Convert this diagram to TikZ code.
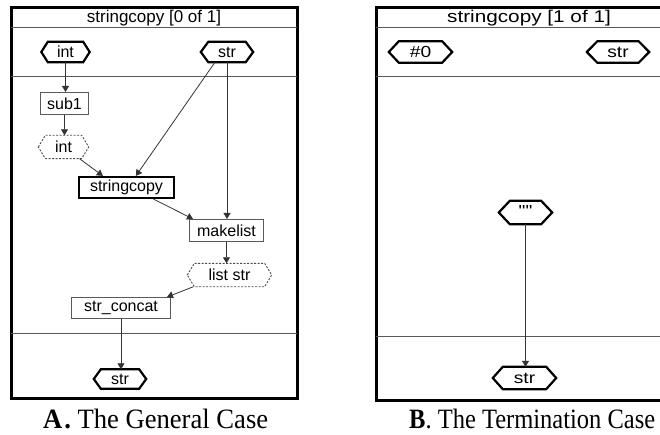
\documentclass[tikz,border=0pt]{standalone}
\usepackage{fontspec}
\setmainfont{Liberation Serif}
\newfontfamily\dgfont{Liberation Sans}
\usetikzlibrary{arrows.meta,calc}

\tikzset{
  lbl/.style={font=\dgfont\fontsize{16}{18}\selectfont, inner sep=0pt},
  ttl/.style={font=\dgfont\fontsize{17}{19}\selectfont, inner sep=0pt},
  opbox/.style={lbl, draw=black!65, line width=1pt},
  mainop/.style={lbl, draw=black, line width=2.2pt},
  hexcore/.style={lbl},
  frameline/.style={line width=3pt, black},
  divline/.style={line width=1pt, black!65},
  wire/.style={line width=0.8pt, black!80, -{Triangle[length=6pt,width=7pt]}},
  hexsolid/.style={line width=2.2pt, black, line join=miter},
  hexdash/.style={line width=0.9pt, black!70, dash pattern=on 2pt off 1.5pt},
  caption/.style={font=\fontsize{28}{32}\selectfont, inner sep=0pt, anchor=base west},
}
% hexagonal outline around a named node: #1 node, #2 style, #3 corner inset
\newcommand\hexoutline[3]{%
  \draw[#2] (#1.west) -- ([xshift=#3]#1.north west) -- ([xshift=-#3]#1.north east)
    -- (#1.east) -- ([xshift=-#3]#1.south east) -- ([xshift=#3]#1.south west) -- cycle;}

\begin{document}
\begin{tikzpicture}[x=1pt, y=-1pt]
\useasboundingbox (0,0) rectangle (660,435);

% ---------------- general case ----------------
\draw[frameline] (11,8) rectangle (297,398);
\draw[divline] (11,28) -- (297,28);
\draw[divline] (11,77) -- (297,77);
\draw[divline] (11,333) -- (297,333);
\node[ttl] (titleA) at (154,18) {stringcopy [0 of 1]};

\node[hexcore, minimum width=48pt, minimum height=20pt] (inA) at (65.5,52) {int};
\node[hexcore, minimum width=52pt, minimum height=20pt] (strA) at (227,52) {str};
\node[opbox, minimum width=48pt, minimum height=22pt] (sub) at (64.5,103.5) {sub1};
\node[hexcore, minimum width=50pt, minimum height=23pt] (inB) at (63.5,147) {int};
\node[mainop, minimum width=95pt, minimum height=21pt] (sc) at (126.5,187.5) {stringcopy};
\node[opbox, minimum width=74pt, minimum height=22pt] (ml) at (226.5,230.5) {makelist};
\node[hexcore, minimum width=84pt, minimum height=23pt] (ls) at (229.5,275) {list str};
\node[opbox, minimum width=99pt, minimum height=21pt] (cat) at (121,308) {str\_concat};
\node[hexcore, minimum width=52pt, minimum height=19pt] (strB) at (120,379) {str};

\hexoutline{inA}{hexsolid}{6.5pt}
\hexoutline{strA}{hexsolid}{7.5pt}
\hexoutline{strB}{hexsolid}{7pt}
\hexoutline{inB}{hexdash}{7pt}
\hexoutline{ls}{hexdash}{7pt}

\draw[wire] (inA.south) -- (inA.south |- sub.north);
\draw[wire] (sub.south) -- (sub.south |- inB.north);
\draw[wire] ($(inB.south)+(16,0)$) -- ($(sc.north west)+(25,0)$);
\draw[wire] ($(strA.south)+(-12,0)$) -- ($(sc.north west)+(58,0)$);
\draw[wire] (strA.south) -- (strA.south |- ml.north);
\draw[wire] ($(sc.south)+(27,0)$) -- ($(ml.north west)+(4,0)$);
\draw[wire] (ml.south) -- (ml.south |- ls.north);
\draw[wire] ($(ls.south)+(-36,0)$) -- ($(cat.north east)+(-4,0)$);
\draw[wire] (cat.south) -- (cat.south |- strB.north);

\node[caption] (capA) at (43,428) {\scalebox{0.95}[1]{\textbf{A\kern2pt.}\ The General Case}};

% ---------------- termination case ----------------
\begin{scope}
\clip (300,0) rectangle (660,435);
\draw[frameline] (670,8) -- (376,8) -- (376,400) -- (670,400);
\draw[divline] (376,28) -- (670,28);
\draw[divline] (376,77) -- (670,77);
\draw[divline] (376,336) -- (670,336);
\node[ttl] (titleB) at (529,18) {\scalebox{1.22}[1]{stringcopy [1 of 1]}};

\node[hexcore, minimum width=63pt, minimum height=21pt] (zero) at (420.5,52) {\scalebox{1.2}[1]{\#0}};
\node[hexcore, minimum width=62pt, minimum height=21pt] (strC) at (618,52) {\scalebox{1.2}[1]{str}};
\node[hexcore, minimum width=53pt, minimum height=23pt] (emp) at (525.5,212.5) {\scalebox{1.2}[1]{\vphantom{Ag}""}};
\node[hexcore, minimum width=63pt, minimum height=22pt] (strD) at (524.5,378) {\scalebox{1.2}[1]{str}};

\hexoutline{zero}{hexsolid}{10pt}
\hexoutline{strC}{hexsolid}{10.5pt}
\hexoutline{emp}{hexsolid}{11pt}
\hexoutline{strD}{hexsolid}{10pt}

\draw[wire] (emp.south) -- (emp.south |- strD.north);
\end{scope}

\node[caption] (capB) at (409,428) {\scalebox{0.875}[1]{\textbf{B}. The Termination Case}};
\end{tikzpicture}
\end{document}
